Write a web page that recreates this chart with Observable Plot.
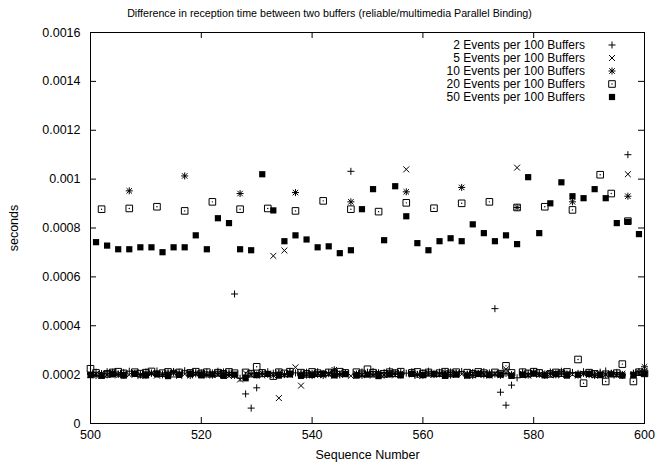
<!DOCTYPE html>
<html><head><meta charset="utf-8">
<script src="https://cdn.jsdelivr.net/npm/d3@7"></script>
<script src="https://cdn.jsdelivr.net/npm/@observablehq/plot@0.6"></script>
<style>body{margin:0;background:#fff} svg{display:block}</style>
</head><body><div id="chart"></div>
<script>
// Sequence numbers 500..600; values below are reception-time differences in microseconds.
const firstSeq = 500;
const labels = ["2 Events per 100 Buffers","5 Events per 100 Buffers","10 Events per 100 Buffers","20 Events per 100 Buffers","50 Events per 100 Buffers"];
const s2 = [
 205,210,203,212,207,201,209,214,204,199,
 211,206,215,202,208,213,210,216,204,209,
 203,211,207,214,202,208,530,185,121,63,
 146,203,212,206,209,201,213,207,204,210,
 196,212,205,209,214,203,208,1032,202,211,
 207,213,204,209,216,203,210,206,212,201,
 208,214,205,210,203,211,207,213,202,209,
 205,212,200,470,128,75,157,187,210,205,
 213,207,203,211,206,214,202,209,205,212,
 207,203,210,215,204,209,201,1100,206,212,208];
const s5 = [
 198,202,195,200,206,197,203,199,208,194,
 201,205,196,203,199,207,195,202,198,204,
 200,196,205,199,203,194,201,180,206,198,
 203,197,204,686,104,708,199,230,155,202,
 197,205,199,203,196,208,200,195,204,198,
 202,196,206,199,203,197,205,1040,200,194,
 203,198,207,200,196,204,199,202,195,206,
 199,203,197,205,200,222,198,1047,203,196,
 204,199,206,197,202,198,205,200,196,203,
 199,206,197,202,200,196,204,1020,199,205,215];
const s10 = [
 201,196,204,199,210,203,198,952,205,200,
 197,206,202,199,204,208,201,1013,196,203,
 207,200,198,205,211,202,197,941,190,204,
 199,206,201,197,205,200,208,945,203,198,
 205,201,196,204,220,199,206,907,202,197,
 205,200,208,198,203,207,199,948,204,201,
 197,206,200,203,209,198,205,966,201,196,
 204,199,207,202,197,205,200,884,203,198,
 206,201,197,204,199,207,202,907,198,205,
 200,196,204,199,206,201,197,930,203,210,232];
const s20 = [
 224,207,877,203,209,212,205,880,210,204,
 208,213,887,206,211,204,209,870,207,212,
 205,210,907,208,203,211,206,877,209,204,
 232,207,880,194,210,205,212,870,208,203,
 211,206,911,209,204,212,207,877,210,205,
 222,208,867,203,210,206,212,903,207,211,
 204,209,881,206,212,205,210,901,208,203,
 211,206,907,209,204,236,207,884,210,205,
 212,207,887,203,209,206,211,874,262,165,
 208,203,1018,172,941,206,243,828,172,210,205];
const s50 = [
 198,742,195,728,201,713,196,713,203,721,
 197,721,202,701,194,721,199,721,204,770,
 197,713,201,840,195,820,200,713,185,709,
 198,1020,203,872,196,746,201,770,195,753,
 199,721,204,725,197,697,202,709,196,877,
 200,959,194,750,201,971,197,848,203,738,
 198,709,202,746,195,758,200,746,196,815,
 203,779,198,746,201,770,195,734,199,1008,
 204,779,197,901,202,987,196,930,200,922,
 203,959,198,922,201,820,196,825,199,775,204];
const xTicks = [500,520,540,560,580,600];
const yTicks = [0,0.0002,0.0004,0.0006,0.0008,0.001,0.0012,0.0014,0.0016];

const toRows = vals => vals.map((v, i) => ({seq: firstSeq + i, t: v * 1e-6}));
const seriesVals = [s2, s5, s10, s20, s50];
// gnuplot-like point types: +, x, * (plus over x), box with centre dot, filled box
const pointStyles = [
  [{symbol: "plus", r: 2.4}],
  [{symbol: "times", r: 2.8}],
  [{symbol: "plus", r: 2.4}, {symbol: "times", r: 2.6}],
  [{symbol: "square2", r: 4.2}, {symbol: "circle", r: 0.7, fill: true}],
  [{symbol: "square", r: 3.5, fill: true}]
];
const d3symbol = {plus: d3.symbolPlus, times: d3.symbolTimes, square2: d3.symbolSquare2, square: d3.symbolSquare, circle: d3.symbolCircle};
const font = "'Liberation Sans', Arial, Helvetica, sans-serif";

const dotMarks = [];
seriesVals.forEach((vals, k) => {
  const data = toRows(vals);
  pointStyles[k].forEach(st => {
    if (st.fill) dotMarks.push(Plot.dot(data, {x: "seq", y: "t", symbol: st.symbol, r: st.r, fill: "black", stroke: "none"}));
    else dotMarks.push(Plot.dot(data, {x: "seq", y: "t", symbol: st.symbol, r: st.r, stroke: "black", strokeWidth: 1}));
  });
});

const chart = Plot.plot({
  width: 659, height: 463,
  marginLeft: 90, marginRight: 15, marginTop: 32, marginBottom: 40,
  x: {domain: [500, 600]},
  y: {domain: [0, 0.0016]},
  style: {fontFamily: font, fontSize: "12.5px", color: "black", background: "white", overflow: "visible"},
  marks: [
    Plot.frame({stroke: "black", strokeWidth: 1}),
    Plot.tickX(xTicks, {x: d => d, insetTop: 385, stroke: "black"}),
    Plot.tickX(xTicks, {x: d => d, insetBottom: 385, stroke: "black"}),
    Plot.tickY(yTicks, {y: d => d, insetRight: 548, stroke: "black"}),
    Plot.tickY(yTicks, {y: d => d, insetLeft: 548, stroke: "black"}),
    Plot.axisX({ticks: xTicks, tickSize: 0, tickPadding: 7, label: null, tickFormat: d => String(d)}),
    Plot.axisY({ticks: yTicks, tickSize: 0, tickPadding: 10, label: null, tickFormat: d => String(d)}),
    ...dotMarks,
    Plot.text(["Difference in reception time between two buffers (reliable/multimedia Parallel Binding)"], {frameAnchor: "top", dx: -38, dy: -19, lineAnchor: "middle", fontSize: 10.7}),
    Plot.text(["Sequence Number"], {frameAnchor: "bottom", dy: 31, lineAnchor: "middle", fontSize: 12.5}),
    Plot.text(["seconds"], {frameAnchor: "left", dx: -77, rotate: -90, textAnchor: "middle", lineAnchor: "middle", fontSize: 12.5})
  ]
});

// legend inside the plot, top right
const lg = d3.select(chart).append("g").attr("font-family", font).attr("font-size", 12);
labels.forEach((lab, k) => {
  const y = 45 + k * 13;
  lg.append("text").attr("x", 585).attr("y", y).attr("dy", "0.35em").attr("text-anchor", "end").attr("fill", "black").text(lab);
  pointStyles[k].forEach(st => {
    const p = lg.append("path").attr("transform", `translate(612,${y})`).attr("d", d3.symbol(d3symbol[st.symbol], st.r * st.r * Math.PI)());
    if (st.fill) p.attr("fill", "black");
    else p.attr("fill", "none").attr("stroke", "black").attr("stroke-width", 1);
  });
});

document.getElementById("chart").appendChild(chart);
</script>
</body></html>
